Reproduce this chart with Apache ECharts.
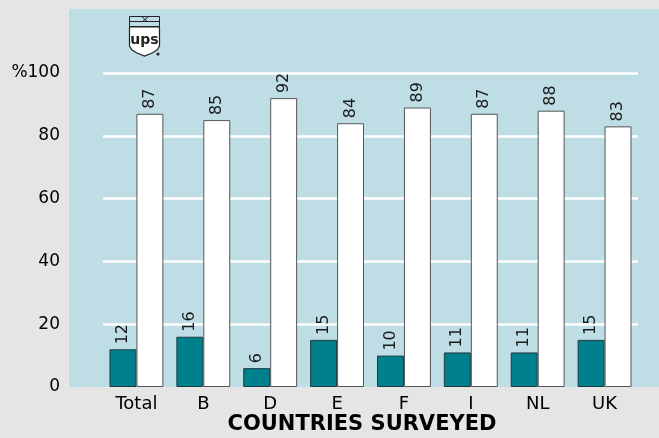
<!DOCTYPE html>
<html>
<head>
<meta charset="utf-8">
<script src="https://cdn.jsdelivr.net/npm/echarts@6/dist/echarts.min.js"></script>
<style>html,body{margin:0;padding:0;background:#e5e5e5;}#c{width:659px;height:438px;}</style>
</head>
<body>
<div id="c"></div>
<script>
const categories = ['Total','B','D','E','F','I','NL','UK'];
const seriesA = [12,16,6,15,10,11,11,15];
const seriesB = [87,85,92,84,89,87,88,83];
const yTickLabels = ['0','20','40','60','80','%100'];
const axisTitle = 'COUNTRIES SURVEYED';

const chart = echarts.init(document.getElementById('c'), null, {renderer:'canvas'});
const FONT = 'DejaVu Sans';
const labelCfg = {
  show: true, position: 'top', rotate: 90, align: 'left', verticalAlign: 'middle',
  distance: 5, color: '#1a1a1a', fontFamily: FONT, fontSize: 16
};
chart.setOption({
  backgroundColor: '#e5e5e5',
  animation: false,
  graphic: [
    { type: 'rect', z: -10, shape: { x: 69, y: 9, width: 590, height: 378 }, style: { fill: '#bedde4' }, silent: true },
    { type: 'rect', z: 10, shape: { x: 129.5, y: 16.5, width: 30, height: 10 }, style: { fill: 'none', stroke: '#222', lineWidth: 1 } },
    { type: 'line', z: 10, shape: { x1: 129.5, y1: 21.5, x2: 159.5, y2: 21.5 }, style: { stroke: '#222', lineWidth: 1 } },
    { type: 'line', z: 10, shape: { x1: 142, y1: 17, x2: 148, y2: 22 }, style: { stroke: '#222', lineWidth: 1 } },
    { type: 'line', z: 10, shape: { x1: 148, y1: 17, x2: 142, y2: 22 }, style: { stroke: '#222', lineWidth: 1 } },
    { type: 'polygon', z: 10, shape: { points: [[129.5,27],[159.5,27],[159.5,46],[157,50],[152,53],[144.5,56],[137,53],[132,50],[129.5,46]] }, style: { fill: '#fff', stroke: '#222', lineWidth: 1.2 } },
    { type: 'text', z: 11, style: { x: 144.5, y: 40, text: 'ups', textAlign: 'center', textVerticalAlign: 'middle', fontFamily: FONT, fontWeight: 'bold', fontSize: 14, fill: '#222' } },
    { type: 'circle', z: 10, shape: { cx: 158, cy: 54, r: 1.6 }, style: { fill: '#222' } },
    { type: 'text', z: 10, style: { x: 362, y: 425, text: axisTitle, textAlign: 'center', textVerticalAlign: 'middle', fontFamily: FONT, fontWeight: 'bold', fontSize: 21, fill: '#000' } }
  ],
  grid: { left: 103, right: 21, top: 73, bottom: 51, containLabel: false },
  xAxis: {
    type: 'category', data: categories,
    axisLine: { show: false }, axisTick: { show: false },
    axisLabel: { color: '#000', fontFamily: FONT, fontSize: 18, margin: 8 }
  },
  yAxis: {
    type: 'value', min: 0, max: 100, interval: 20,
    axisLine: { show: false }, axisTick: { show: false },
    axisLabel: { color: '#000', fontFamily: FONT, fontSize: 17, margin: 43,
      formatter: (v) => yTickLabels[Math.round(v / 20)] },
    splitLine: { show: true, lineStyle: { color: ['rgba(0,0,0,0)','#fff','#fff','#fff','#fff','#fff'], width: 2.5 } }
  },
  series: [
    { type: 'bar', data: seriesA, barGap: '0%', barCategoryGap: '19.4%',
      itemStyle: { color: '#00808c', borderColor: '#1d3a3e', borderWidth: 1 }, label: labelCfg },
    { type: 'bar', data: seriesB, barGap: '0%', barCategoryGap: '19.4%',
      itemStyle: { color: '#ffffff', borderColor: '#555', borderWidth: 1 }, label: labelCfg }
  ]
});
</script>
</body>
</html>
